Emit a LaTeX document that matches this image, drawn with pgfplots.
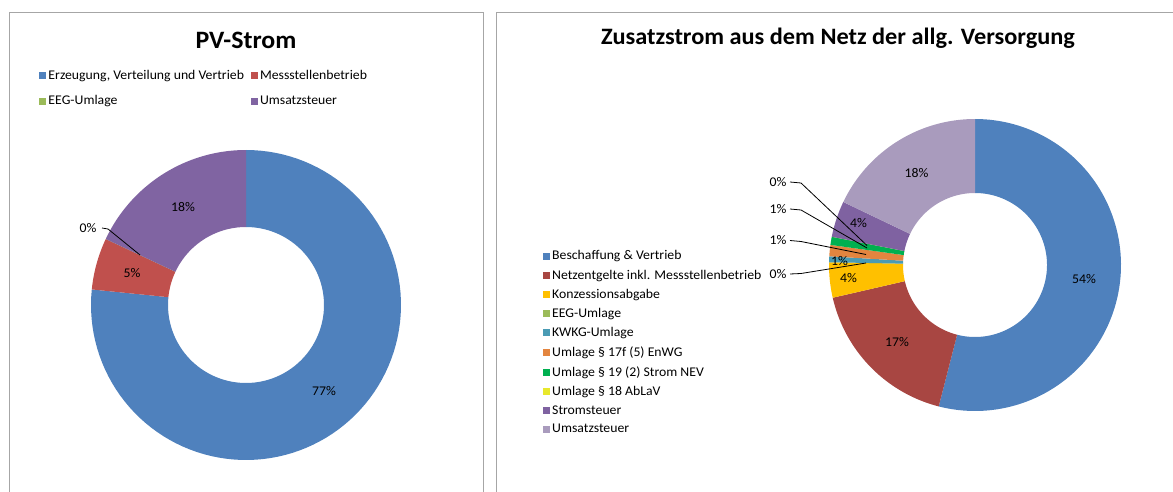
\documentclass[border=0pt]{standalone}
\usepackage{fontspec}
\setmainfont[FakeStretch=1.035]{Carlito}
\usepackage{pgfplots}
\pgfplotsset{compat=1.18}
\definecolor{cBlue}{HTML}{4F81BD}
\definecolor{cRed}{HTML}{C0504D}
\definecolor{cGreen}{HTML}{9BBB59}
\definecolor{cPurple}{HTML}{8064A2}
\definecolor{rRed}{HTML}{A84642}
\definecolor{rYellow}{HTML}{FFC000}
\definecolor{rTeal}{HTML}{4A9BB4}
\definecolor{rOrange}{HTML}{E3853F}
\definecolor{rGreen}{HTML}{00B050}
\definecolor{rLime}{HTML}{E8E82C}
\definecolor{rPurple}{HTML}{7F62A1}
\definecolor{rLila}{HTML}{A99BBD}
\definecolor{frame}{HTML}{A6A6A6}
\newcommand\pct{\fontsize{13.3}{16}\selectfont}
\newcommand\cum{0}
% #1 colour, #2 value in percent, #3 cx, #4 cy, #5 outer radius, #6 inner radius
% parameter x = 0..100 runs along the outer arc, x = 101..201 back along the inner arc
\newcommand{\slice}[6]{%
  \pgfmathsetmacro\sS{\cum}%
  \pgfmathsetmacro\sE{\cum+#2}%
  \xdef\cum{\sE}%
  \edef\tmp{\noexpand\addplot[fill=#1, draw=none, samples at={0,1,...,201}]
    ({#3+ifthenelse(x<100.5,#5,#6)*cos(90-3.6*(\sS+(\sE-\sS)*min(x,201-x)/100))},
     {#4+ifthenelse(x<100.5,#5,#6)*sin(90-3.6*(\sS+(\sE-\sS)*min(x,201-x)/100))});}%
  \tmp}
\pgfplotsset{
  base/.style={at={(0,0)}, anchor=south west, width=1173pt, height=491pt,
    scale only axis, xmin=0, xmax=1173, ymin=0, ymax=491, hide axis, clip=false,
    legend cell align=left,
    legend image code/.code={\fill[##1] (0pt,-3.5pt) rectangle (7pt,3.5pt);}},
}
\begin{document}
\begin{tikzpicture}
% ---------------- left chart ----------------
\begin{axis}[base,
  legend columns=2,
  legend style={draw=none, fill=none, font=\pct, at={(0.0335,0.862)}, anchor=north west,
    row sep=11pt, inner sep=0pt,
    /tikz/every even column/.append style={column sep=5pt}}]
\gdef\cum{0}
\slice{cBlue}{76.6}{246}{186}{155}{78}
\addlegendentry{Erzeugung, Verteilung und Vertrieb}
\slice{cRed}{5.4}{246}{186}{155}{78}
\addlegendentry{Messstellenbetrieb}
\slice{cGreen}{0.0}{246}{186}{155}{78}
\addlegendentry{EEG-Umlage}
\slice{cPurple}{18.0}{246}{186}{155}{78}
\addlegendentry{Umsatzsteuer}
\addplot[black, line width=0.8pt, forget plot] coordinates {(102,263) (108,262) (140,236)};
\node[font=\pct] at (axis cs:324,100) {77\%};
\node[font=\pct] at (axis cs:132,218) {5\%};
\node[font=\pct] at (axis cs:183,284) {18\%};
\node[font=\pct] at (axis cs:88,263) {0\%};
\node[font=\bfseries\fontsize{25}{29}\selectfont] at (axis cs:246,451) {PV-Strom};
\draw[frame, line width=0.8pt] (axis cs:9,-5) |- (axis cs:483,479) -- (axis cs:483,-5);
\end{axis}
% ---------------- right chart ----------------
\begin{axis}[base,
  legend style={draw=none, fill=none, font=\pct, at={(0.4629,0.494)}, anchor=north west,
    row sep=4.5pt, inner sep=0pt}]
\gdef\cum{0}
\slice{cBlue}{54.0}{975}{226}{146}{72}
\addlegendentry{Beschaffung \& Vertrieb}
\slice{rRed}{17.4}{975}{226}{146}{72}
\addlegendentry{Netzentgelte inkl. Messstellenbetrieb}
\slice{rYellow}{3.9}{975}{226}{146}{72}
\addlegendentry{Konzessionsabgabe}
\slice{cGreen}{0.0}{975}{226}{146}{72}
\addlegendentry{EEG-Umlage}
\slice{rTeal}{0.65}{975}{226}{146}{72}
\addlegendentry{KWKG-Umlage}
\slice{rOrange}{1.25}{975}{226}{146}{72}
\addlegendentry{Umlage § 17f (5) EnWG}
\slice{rGreen}{0.9}{975}{226}{146}{72}
\addlegendentry{Umlage § 19 (2) Strom NEV}
\slice{rLime}{0.0}{975}{226}{146}{72}
\addlegendentry{Umlage § 18 AbLaV}
\slice{rPurple}{4.0}{975}{226}{146}{72}
\addlegendentry{Stromsteuer}
\slice{rLila}{17.9}{975}{226}{146}{72}
\addlegendentry{Umsatzsteuer}
\addplot[black, line width=0.8pt, forget plot] coordinates {(790,309) (801,308) (867,245.5)};
\addplot[black, line width=0.8pt, forget plot] coordinates {(790,282) (801,281) (867,243)};
\addplot[black, line width=0.8pt, forget plot] coordinates {(790,250.5) (801,249.5) (866,236.5)};
\addplot[black, line width=0.8pt, forget plot] coordinates {(790,217) (801,217.5) (866,228)};
\node[font=\pct] at (axis cs:1084,212) {54\%};
\node[font=\pct] at (axis cs:897,149) {17\%};
\node[font=\pct] at (axis cs:848.5,213.3) {4\%};
\node[font=\pct] at (axis cs:839.5,230) {1\%};
\node[font=\pct] at (axis cs:858.5,267.7) {4\%};
\node[font=\pct] at (axis cs:916.5,317.7) {18\%};
\node[font=\pct] at (axis cs:778,309) {0\%};
\node[font=\pct] at (axis cs:778,282) {1\%};
\node[font=\pct] at (axis cs:778,250.5) {1\%};
\node[font=\pct] at (axis cs:778,217) {0\%};
\node[font=\bfseries\fontsize{23.5}{28}\selectfont] at (axis cs:838,453) {Zusatzstrom aus dem Netz der allg. Versorgung};
\draw[frame, line width=0.8pt] (axis cs:496,-5) |- (axis cs:1180,479);
\end{axis}
\pgfresetboundingbox
\path (0,0) rectangle (1173pt,491pt);
\end{tikzpicture}
\end{document}
